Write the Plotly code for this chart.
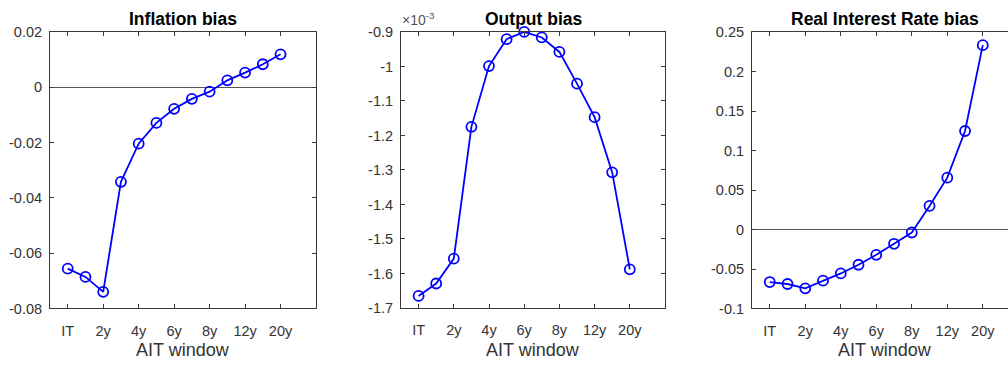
import plotly.graph_objects as go

W, H = 1008, 371

x_pos = list(range(1, 14))
tick_pos = [1, 3, 5, 7, 9, 11, 13]
tick_labels = ["IT", "2y", "4y", "6y", "8y", "12y", "20y"]

inflation_bias = [-0.0656, -0.0686, -0.0740, -0.0342, -0.0204, -0.0129, -0.0078,
                  -0.0042, -0.0016, 0.0025, 0.0053, 0.0083, 0.0119]
output_bias = [-1.665e-3, -1.629e-3, -1.557e-3, -1.175e-3, -0.999e-3, -0.921e-3, -0.900e-3,
               -0.916e-3, -0.958e-3, -1.050e-3, -1.147e-3, -1.307e-3, -1.588e-3]
rate_bias = [-0.0665, -0.0690, -0.0745, -0.0648, -0.0556, -0.0446, -0.0320,
             -0.0180, -0.0037, 0.0300, 0.0658, 0.1250, 0.2338]

titles = ["Inflation bias", "Output bias", "Real Interest Rate bias"]
x_title = "AIT window"

y1_ticks = [-0.08, -0.06, -0.04, -0.02, 0, 0.02]
y1_text = ["-0.08", "-0.06", "-0.04", "-0.02", "0", "0.02"]
y2_ticks = [-1.7e-3, -1.6e-3, -1.5e-3, -1.4e-3, -1.3e-3, -1.2e-3, -1.1e-3, -1.0e-3, -0.9e-3]
y2_text = ["-1.7", "-1.6", "-1.5", "-1.4", "-1.3", "-1.2", "-1.1", "-1", "-0.9"]
y3_ticks = [-0.1, -0.05, 0, 0.05, 0.1, 0.15, 0.2, 0.25]
y3_text = ["-0.1", "-0.05", "0", "0.05", "0.1", "0.15", "0.2", "0.25"]

# pixel boxes of the axes (left, right, top, bottom)
boxes = [(50, 316, 25, 314), (401, 665, 25, 313.5), (752, 1008, 25.5, 314)]
x_ranges = [[0, 15], [0, 15], [0, 14.42]]
y_ranges = [[-0.08, 0.02], [-1.7e-3, -0.9e-3], [-0.1, 0.25]]

AX = "#3a3a3a"
TXT = "#333333"
BLUE = "#0000ff"

fig = go.Figure()
series = [inflation_bias, output_bias, rate_bias]
yt = [(y1_ticks, y1_text), (y2_ticks, y2_text), (y3_ticks, y3_text)]

layout = dict(
    width=W, height=H, margin=dict(l=0, r=0, t=0, b=0),
    paper_bgcolor="white", plot_bgcolor="white", showlegend=False,
    font=dict(family="Liberation Sans, Arial, sans-serif", color=TXT),
)
annotations = []
for i in range(3):
    n = "" if i == 0 else str(i + 1)
    l, r, t, b = boxes[i]
    fig.add_trace(go.Scatter(
        x=x_pos, y=series[i], mode="lines+markers",
        line=dict(color=BLUE, width=1.8),
        marker=dict(symbol="circle-open", size=10, color=BLUE, line=dict(width=1.8, color=BLUE)),
        xaxis="x" + n, yaxis="y" + n, cliponaxis=False,
    ))
    layout["xaxis" + n] = dict(
        domain=[l / W, r / W], range=x_ranges[i], anchor="y" + n,
        tickvals=tick_pos, ticktext=tick_labels, ticks="inside", ticklen=4,
        tickcolor=AX, showline=True, linecolor=AX, linewidth=1,
        mirror="ticks", showgrid=False, zeroline=False,
        tickfont=dict(size=14.5, color=TXT), ticklabelstandoff=9,
    )
    layout["yaxis" + n] = dict(
        domain=[1 - b / H, 1 - t / H], range=y_ranges[i], anchor="x" + n,
        tickvals=yt[i][0], ticktext=yt[i][1], ticks="inside", ticklen=4,
        tickcolor=AX, showline=True, linecolor=AX, linewidth=1,
        mirror=("ticks" if i < 2 else False), showgrid=False,
        zeroline=(i != 1), zerolinecolor="#555555", zerolinewidth=1,
        tickfont=dict(size=14.5, color=TXT), ticklabelstandoff=4,
    )
    cx = ((l + (r if i < 2 else 1017.8)) / 2) / W
    annotations.append(dict(
        text="<b>" + titles[i] + "</b>", xref="paper", yref="paper",
        x=cx, y=1 - 12 / H,
        xanchor="center", yanchor="middle", showarrow=False,
        font=dict(size=17.5, color="black"),
    ))
    annotations.append(dict(
        text=x_title, xref="paper", yref="paper",
        x=cx, y=1 - 357.5 / H,
        xanchor="center", yanchor="middle", showarrow=False,
        font=dict(size=18, color=TXT),
    ))

annotations.append(dict(
    text="×10<sup>-3</sup>", xref="paper", yref="paper",
    x=400 / W, y=1 - 23 / H, xanchor="left", yanchor="bottom",
    showarrow=False, font=dict(size=14, color="#555555"),
))
layout["annotations"] = annotations
fig.update_layout(**layout)
fig.write_html("out.html")
